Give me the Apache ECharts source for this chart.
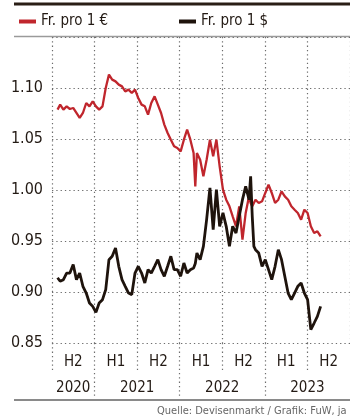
<!DOCTYPE html>
<html lang="de" style="height: 100%">
<head>
  <meta charset="utf-8">
  <title>Franken pro Euro und Dollar</title>
</head>
<body style="height: 100%; margin: 0; background: #fff">
  <div id="container" style="width: 350px; height: 416px"></div>
  <script type="text/javascript" src="https://fastly.jsdelivr.net/npm/echarts@6/dist/echarts.min.js"></script>
  <script type="text/javascript">
    // Zeitpunkte als Dezimaljahre
    const dates = [
      2020.565, 2020.596, 2020.634, 2020.672, 2020.710, 2020.749, 2020.787, 2020.825, 2020.863, 2020.902,
      2020.940, 2020.978, 2021.016, 2021.054, 2021.093, 2021.131, 2021.169, 2021.207, 2021.246, 2021.284,
      2021.322, 2021.360, 2021.399, 2021.437, 2021.475, 2021.513, 2021.552, 2021.590, 2021.628, 2021.666,
      2021.705, 2021.743, 2021.781, 2021.819, 2021.858, 2021.896, 2021.934, 2021.972, 2022.011, 2022.049,
      2022.087, 2022.125, 2022.163, 2022.183, 2022.202, 2022.240, 2022.278, 2022.316, 2022.355, 2022.393,
      2022.431, 2022.469, 2022.508, 2022.546, 2022.584, 2022.622, 2022.661, 2022.699, 2022.737, 2022.775,
      2022.814, 2022.833, 2022.852, 2022.871, 2022.890, 2022.928, 2022.967, 2023.005, 2023.043, 2023.081,
      2023.120, 2023.158, 2023.196, 2023.234, 2023.273, 2023.311, 2023.349, 2023.387, 2023.426, 2023.464,
      2023.502, 2023.540, 2023.579, 2023.617, 2023.655
    ];

    // Fr. pro 1 €
    const chfEur = [
      1.0788, 1.0837, 1.0788, 1.0820, 1.0794, 1.0804, 1.0755, 1.0706, 1.0755, 1.0853,
      1.0820, 1.0869, 1.0820, 1.0788, 1.0820, 1.1000, 1.1131, 1.1082, 1.1065, 1.1033,
      1.1016, 1.0967, 1.0984, 1.0951, 1.0984, 1.0902, 1.0837, 1.0820, 1.0739, 1.0853,
      1.0918, 1.0837, 1.0755, 1.0641, 1.0559, 1.0493, 1.0428, 1.0412, 1.0379, 1.0493,
      1.0591, 1.0493, 1.0363, 1.0036, 1.0363, 1.0297, 1.0134, 1.0297, 1.0493, 1.0330,
      1.0493, 1.0232, 1.0003, 0.9905, 0.9840, 0.9742, 0.9644, 0.9840, 0.9513, 0.9775,
      0.9938, 0.9873, 0.9840, 0.9873, 0.9905, 0.9873, 0.9889, 0.9971, 1.0052, 0.9971,
      0.9873, 0.9905, 0.9987, 0.9938, 0.9905, 0.9840, 0.9807, 0.9775, 0.9709, 0.9807,
      0.9775, 0.9644, 0.9578, 0.9595, 0.9546
    ];

    // Fr. pro 1 $
    const chfUsd = [
      0.9140, 0.9105, 0.9121, 0.9186, 0.9186, 0.9270, 0.9121, 0.9186, 0.9056, 0.8990,
      0.8892, 0.8859, 0.8800, 0.8892, 0.8925, 0.9023, 0.9317, 0.9350, 0.9431, 0.9252,
      0.9121, 0.9056, 0.8990, 0.8974, 0.9186, 0.9252, 0.9186, 0.9088, 0.9219, 0.9186,
      0.9252, 0.9317, 0.9219, 0.9154, 0.9252, 0.9350, 0.9219, 0.9219, 0.9154, 0.9284,
      0.9186, 0.9219, 0.9235, 0.9280, 0.9382, 0.9317, 0.9448, 0.9709, 1.0020, 0.9611,
      1.0003, 0.9644, 0.9775, 0.9644, 0.9448, 0.9644, 0.9578, 0.9742, 0.9905, 1.0036,
      0.9905, 1.0134, 0.9742, 0.9448, 0.9415, 0.9382, 0.9252, 0.9317, 0.9219, 0.9121,
      0.9252, 0.9415, 0.9317, 0.9154, 0.8990, 0.8925, 0.8990, 0.9056, 0.9088, 0.8990,
      0.8925, 0.8631, 0.8696, 0.8761, 0.8859
    ];

    const halfYearTicks = [2020.5, 2021, 2021.5, 2022, 2022.5, 2023, 2023.5];
    const halfLabelPos = [2020.75, 2021.25, 2021.75, 2022.25, 2022.75, 2023.25, 2023.75];
    const halfLabels = ['H2', 'H1', 'H2', 'H1', 'H2', 'H1', 'H2'];
    const yearTicks = [2021, 2022, 2023];
    const yearLabelPos = [2020.75, 2021.5, 2022.5, 2023.5];
    const yearLabels = ['2020', '2021', '2022', '2023'];

    const FONT = "'Liberation Sans Narrow', 'DejaVu Sans Condensed', sans-serif";
    const INK = '#231a14';
    const dotted = { color: '#6d6d6d', width: 1.2, type: [1.3, 3] };

    var dom = document.getElementById('container');
    var myChart = echarts.init(dom, null, { renderer: 'canvas' });

    var option = {
      animation: false,
      grid: { left: 52, right: -6, top: 37, bottom: 73 },
      legend: [
        {
          left: 14, top: 9, icon: 'rect', itemWidth: 17, itemHeight: 4,
          textStyle: { fontFamily: FONT, fontSize: 15, color: INK },
          data: ['Fr. pro 1 €']
        },
        {
          left: 174, top: 9, icon: 'rect', itemWidth: 17, itemHeight: 4,
          textStyle: { fontFamily: FONT, fontSize: 15, color: INK },
          data: ['Fr. pro 1 $']
        }
      ],
      xAxis: [
        {
          type: 'value', min: 2020.5, max: 2024, interval: 0.5,
          axisLine: { show: false }, axisTick: { show: false }, axisLabel: { show: false },
          splitLine: { show: true, lineStyle: dotted }
        },
        {
          type: 'value', min: 2020.5, max: 2024, position: 'bottom',
          axisLine: { show: false },
          axisTick: { show: true, customValues: halfYearTicks, length: 30, lineStyle: dotted },
          axisLabel: {
            customValues: halfLabelPos, margin: 12,
            formatter: v => halfLabels[halfLabelPos.indexOf(v)],
            fontFamily: FONT, fontSize: 15, color: INK
          },
          splitLine: { show: false }
        },
        {
          type: 'value', min: 2020.5, max: 2024, position: 'bottom', offset: 30,
          axisLine: { show: false },
          axisTick: { show: true, customValues: yearTicks, length: 25, lineStyle: dotted },
          axisLabel: {
            customValues: yearLabelPos, margin: 8,
            formatter: v => yearLabels[yearLabelPos.indexOf(v)],
            fontFamily: FONT, fontSize: 15, color: INK
          },
          splitLine: { show: false }
        }
      ],
      yAxis: {
        type: 'value', min: 0.85, max: 1.15, interval: 0.05,
        axisLine: { show: false }, axisTick: { show: false },
        axisLabel: {
          margin: 9, fontFamily: FONT, fontSize: 16, color: INK,
          formatter: v => (v > 1.12 ? '' : v.toFixed(2))
        },
        splitLine: { show: true, lineStyle: dotted }
      },
      graphic: [
        { type: 'line', shape: { x1: 14, y1: 4, x2: 350, y2: 4 }, style: { stroke: '#2a1e16', lineWidth: 3 } },
        { type: 'line', shape: { x1: 14, y1: 36.5, x2: 350, y2: 36.5 }, style: { stroke: '#9a9a9a', lineWidth: 1.5 } },
        { type: 'line', shape: { x1: 14, y1: 400, x2: 350, y2: 400 }, style: { stroke: '#8a8a8a', lineWidth: 2 } },
        {
          type: 'text', left: 157, top: 406,
          style: { text: 'Quelle: Devisenmarkt / Grafik: FuW, ja', fontFamily: FONT, fontSize: 11, fill: '#666' }
        }
      ],
      series: [
        {
          name: 'Fr. pro 1 €', type: 'line', showSymbol: false,
          color: '#c0262d', lineStyle: { width: 2.3 },
          data: dates.map((d, i) => [d, chfEur[i]])
        },
        {
          name: 'Fr. pro 1 $', type: 'line', showSymbol: false,
          color: '#1e130c', lineStyle: { width: 2.8 },
          data: dates.map((d, i) => [d, chfUsd[i]])
        }
      ]
    };

    myChart.setOption(option);
    window.addEventListener('resize', myChart.resize);
  </script>
</body>
</html>
